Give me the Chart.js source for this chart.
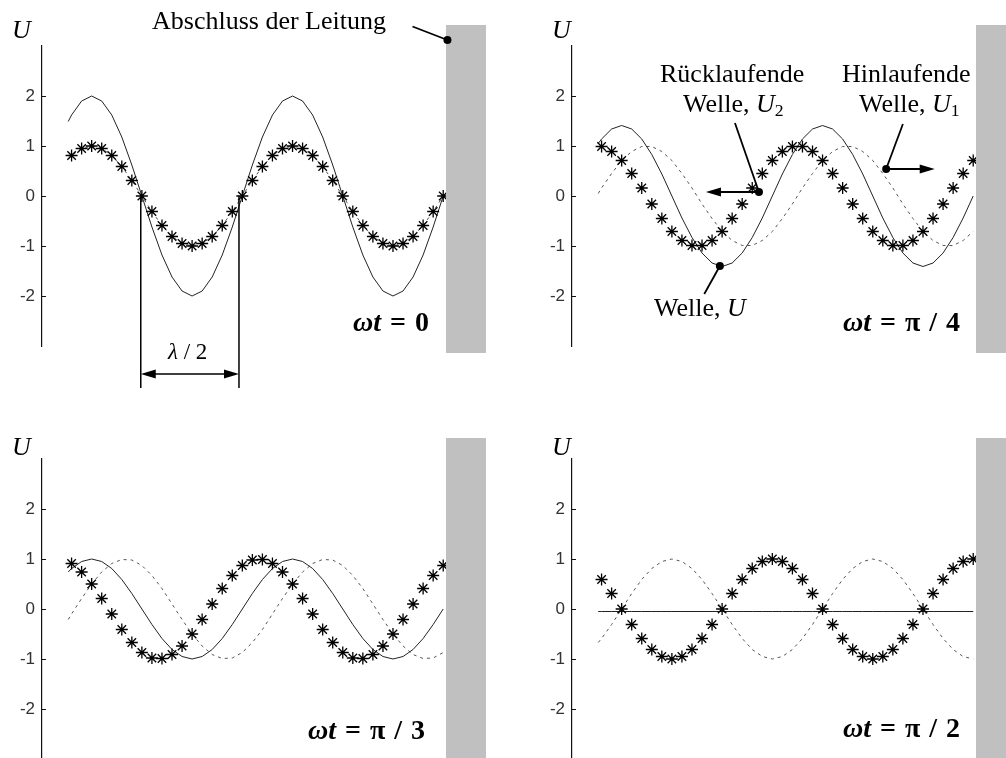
<!DOCTYPE html>
<html lang="de">
<head>
  <meta charset="UTF-8">
  <title>Stehende Welle</title>
  <script src="https://cdn.jsdelivr.net/npm/chart.js"></script>
  <style>
    body {
      margin: 0;
      background: #ffffff;
    }
    #page {
      position: relative;
      width: 1006px;
      height: 758px;
      overflow: hidden;
      background: #ffffff;
    }
    canvas {
      position: absolute;
    }
    .lbl {
      position: absolute;
      font-family: 'Liberation Serif', 'Times New Roman', serif;
      font-size: 26px;
      line-height: 1;
      white-space: nowrap;
      color: #000;
    }
    .i { font-style: italic; }
    .big { font-size: 28px; font-weight: bold; word-spacing: 2px; }
    sub {
      font-size: 0.68em;
      font-style: normal;
      vertical-align: -0.22em;
      line-height: 0;
    }
  </style>
</head>
<body>
<div id="page">
  <canvas id="c1" width="500" height="400" style="left:0;top:0"></canvas>
  <canvas id="c2" width="500" height="400" style="left:530px;top:0"></canvas>
  <canvas id="c3" width="500" height="400" style="left:0;top:413px"></canvas>
  <canvas id="c4" width="500" height="400" style="left:530px;top:413px"></canvas>

  <div class="lbl" style="left:152px;top:8px">Abschluss der Leitung</div>
  <div class="lbl i" style="left:12px;top:17px">U</div>
  <div class="lbl i" style="left:552px;top:17px">U</div>
  <div class="lbl i" style="left:12px;top:434px">U</div>
  <div class="lbl i" style="left:552px;top:434px">U</div>

  <div class="lbl" style="left:660px;top:61px">Rücklaufende</div>
  <div class="lbl" style="left:683px;top:91px">Welle, <span class="i">U</span><sub>2</sub></div>
  <div class="lbl" style="left:842px;top:61px">Hinlaufende</div>
  <div class="lbl" style="left:859px;top:91px">Welle, <span class="i">U</span><sub>1</sub></div>
  <div class="lbl" style="left:654px;top:295px">Welle, <span class="i">U</span></div>

  <div class="lbl" style="left:168px;top:340px;font-size:23px"><span class="i">λ</span> / 2</div>

  <div class="lbl big" style="left:353px;top:308px"><span class="i">ωt</span> = 0</div>
  <div class="lbl big" style="left:843px;top:308px"><span class="i">ωt</span> = π / 4</div>
  <div class="lbl big" style="left:308px;top:716px"><span class="i">ωt</span> = π / 3</div>
  <div class="lbl big" style="left:843px;top:714px"><span class="i">ωt</span> = π / 2</div>
</div>

<script>
  // Ort kz in Grad: Stützstellen der Linien und der Sternmarken
  const zLine = [-42, -36, -18, 0, 18, 36, 54, 72, 90, 108, 126, 144, 162, 180, 198, 216, 234, 252, 270,
    288, 306, 324, 342, 360, 378, 396, 414, 432, 450, 468, 486, 504, 522, 540, 558, 576, 594, 612, 630];
  const zMarks = [-36, -18, 0, 18, 36, 54, 72, 90, 108, 126, 144, 162, 180, 198, 216, 234, 252, 270,
    288, 306, 324, 342, 360, 378, 396, 414, 432, 450, 468, 486, 504, 522, 540, 558, 576, 594, 612, 630];
  const yTicks = [-2, -1, 0, 1, 2];

  // wt = 0
  const U_t0 = [1.49, 1.62, 1.90, 2, 1.90, 1.62, 1.18, 0.62, 0, -0.62, -1.18, -1.62, -1.90, -2, -1.90, -1.62, -1.18, -0.62, 0,
    0.62, 1.18, 1.62, 1.90, 2, 1.90, 1.62, 1.18, 0.62, 0, -0.62, -1.18, -1.62, -1.90, -2, -1.90, -1.62, -1.18, -0.62, 0];
  const U1_t0 = [0.74, 0.81, 0.95, 1, 0.95, 0.81, 0.59, 0.31, 0, -0.31, -0.59, -0.81, -0.95, -1, -0.95, -0.81, -0.59, -0.31, 0,
    0.31, 0.59, 0.81, 0.95, 1, 0.95, 0.81, 0.59, 0.31, 0, -0.31, -0.59, -0.81, -0.95, -1, -0.95, -0.81, -0.59, -0.31, 0];
  const U2_t0 = [0.81, 0.95, 1, 0.95, 0.81, 0.59, 0.31, 0, -0.31, -0.59, -0.81, -0.95, -1, -0.95, -0.81, -0.59, -0.31, 0,
    0.31, 0.59, 0.81, 0.95, 1, 0.95, 0.81, 0.59, 0.31, 0, -0.31, -0.59, -0.81, -0.95, -1, -0.95, -0.81, -0.59, -0.31, 0];

  // wt = pi/4
  const U_t4 = [1.05, 1.14, 1.34, 1.41, 1.34, 1.14, 0.83, 0.44, 0, -0.44, -0.83, -1.14, -1.34, -1.41, -1.34, -1.14, -0.83, -0.44, 0,
    0.44, 0.83, 1.14, 1.34, 1.41, 1.34, 1.14, 0.83, 0.44, 0, -0.44, -0.83, -1.14, -1.34, -1.41, -1.34, -1.14, -0.83, -0.44, 0];
  const U1_t4 = [0.05, 0.16, 0.45, 0.71, 0.89, 0.99, 0.99, 0.89, 0.71, 0.45, 0.16, -0.16, -0.45, -0.71, -0.89, -0.99, -0.99, -0.89, -0.71,
    -0.45, -0.16, 0.16, 0.45, 0.71, 0.89, 0.99, 0.99, 0.89, 0.71, 0.45, 0.16, -0.16, -0.45, -0.71, -0.89, -0.99, -0.99, -0.89, -0.71];
  const U2_t4 = [0.99, 0.89, 0.71, 0.45, 0.16, -0.16, -0.45, -0.71, -0.89, -0.99, -0.99, -0.89, -0.71, -0.45, -0.16, 0.16, 0.45, 0.71,
    0.89, 0.99, 0.99, 0.89, 0.71, 0.45, 0.16, -0.16, -0.45, -0.71, -0.89, -0.99, -0.99, -0.89, -0.71, -0.45, -0.16, 0.16, 0.45, 0.71];

  // wt = pi/3
  const U_t3 = [0.74, 0.81, 0.95, 1, 0.95, 0.81, 0.59, 0.31, 0, -0.31, -0.59, -0.81, -0.95, -1, -0.95, -0.81, -0.59, -0.31, 0,
    0.31, 0.59, 0.81, 0.95, 1, 0.95, 0.81, 0.59, 0.31, 0, -0.31, -0.59, -0.81, -0.95, -1, -0.95, -0.81, -0.59, -0.31, 0];
  const U1_t3 = [-0.21, -0.1, 0.21, 0.5, 0.74, 0.91, 0.99, 0.98, 0.87, 0.67, 0.41, 0.1, -0.21, -0.5, -0.74, -0.91, -0.99, -0.98, -0.87,
    -0.67, -0.41, -0.1, 0.21, 0.5, 0.74, 0.91, 0.99, 0.98, 0.87, 0.67, 0.41, 0.1, -0.21, -0.5, -0.74, -0.91, -0.99, -0.98, -0.87];
  const U2_t3 = [0.91, 0.74, 0.5, 0.21, -0.1, -0.41, -0.67, -0.87, -0.98, -0.99, -0.91, -0.74, -0.5, -0.21, 0.1, 0.41, 0.67, 0.87,
    0.98, 0.99, 0.91, 0.74, 0.5, 0.21, -0.1, -0.41, -0.67, -0.87, -0.98, -0.99, -0.91, -0.74, -0.5, -0.21, 0.1, 0.41, 0.67, 0.87];

  // wt = pi/2
  const U_t2 = [-0.05, -0.05, -0.05, -0.05, -0.05, -0.05, -0.05, -0.05, -0.05, -0.05, -0.05, -0.05, -0.05, -0.05, -0.05, -0.05, -0.05, -0.05, -0.05,
    -0.05, -0.05, -0.05, -0.05, -0.05, -0.05, -0.05, -0.05, -0.05, -0.05, -0.05, -0.05, -0.05, -0.05, -0.05, -0.05, -0.05, -0.05, -0.05, -0.05];
  const U1_t2 = [-0.67, -0.59, -0.31, 0, 0.31, 0.59, 0.81, 0.95, 1, 0.95, 0.81, 0.59, 0.31, 0, -0.31, -0.59, -0.81, -0.95, -1,
    -0.95, -0.81, -0.59, -0.31, 0, 0.31, 0.59, 0.81, 0.95, 1, 0.95, 0.81, 0.59, 0.31, 0, -0.31, -0.59, -0.81, -0.95, -1];
  const U2_t2 = [0.59, 0.31, 0, -0.31, -0.59, -0.81, -0.95, -1, -0.95, -0.81, -0.59, -0.31, 0, 0.31, 0.59, 0.81, 0.95, 1,
    0.95, 0.81, 0.59, 0.31, 0, -0.31, -0.59, -0.81, -0.95, -1, -0.95, -0.81, -0.59, -0.31, 0, 0.31, 0.59, 0.81, 0.95, 1];

  function pts(xs, ys) {
    return xs.map((x, i) => ({ x: x, y: ys[i] }));
  }

  // kleine Zeichenhilfen fuer Hinweislinien
  function line(ctx, a, b) {
    ctx.beginPath();
    ctx.moveTo(a[0], a[1]);
    ctx.lineTo(b[0], b[1]);
    ctx.stroke();
  }
  function dot(ctx, p) {
    ctx.beginPath();
    ctx.arc(p[0], p[1], 4, 0, Math.PI * 2);
    ctx.fill();
  }
  function head(ctx, tip, dir) {
    ctx.beginPath();
    ctx.moveTo(tip[0], tip[1]);
    ctx.lineTo(tip[0] - dir * 15, tip[1] - 4.5);
    ctx.lineTo(tip[0] - dir * 15, tip[1] + 4.5);
    ctx.closePath();
    ctx.fill();
  }

  function makePanel(id, U, U1, U2, notes) {
    return new Chart(document.getElementById(id), {
      type: 'scatter',
      data: {
        datasets: [
          { data: pts(zMarks, U2), showLine: false, pointStyle: 'star', pointRadius: 6,
            borderColor: '#000', borderWidth: 1.3 },
          { data: pts(zLine, U), showLine: true, borderColor: '#222', borderWidth: 1, pointRadius: 0 },
          { data: pts(zLine, U1), showLine: true, borderColor: '#555', borderWidth: 1,
            borderDash: [3, 4], pointRadius: 0 }
        ]
      },
      options: {
        responsive: false,
        animation: false,
        events: [],
        layout: { padding: { left: 0, top: 46, right: 54, bottom: 54 } },
        plugins: { legend: { display: false }, tooltip: { enabled: false } },
        scales: {
          x: { type: 'linear', min: -89, max: 635, display: false },
          y: {
            min: -3, max: 3,
            afterBuildTicks: s => { s.ticks = yTicks.map(v => ({ value: v })); },
            afterFit: s => { s.width = 42; },
            grid: { display: false, drawTicks: false },
            border: { display: true, color: '#111', width: 1.2 },
            ticks: { padding: 7, color: '#333', font: { family: "'Liberation Sans', Arial, sans-serif", size: 17 } }
          }
        }
      },
      plugins: [{
        id: 'deko',
        afterDatasetsDraw(chart) {
          const ctx = chart.ctx;
          const area = chart.chartArea;
          const xs = chart.scales.x, ys = chart.scales.y;
          ctx.save();
          // Abschluss der Leitung
          ctx.fillStyle = '#c0c0c0';
          ctx.fillRect(area.right, area.top - 21, 40, area.bottom - area.top + 28);
          // Teilstriche nach innen
          ctx.strokeStyle = '#111';
          ctx.lineWidth = 1;
          yTicks.forEach(v => {
            const y = Math.round(ys.getPixelForValue(v)) + 0.5;
            line(ctx, [area.left, y], [area.left + 4, y]);
          });
          if (notes) {
            const P = (z, u) => [xs.getPixelForValue(z), ys.getPixelForValue(u)];
            ctx.strokeStyle = '#000';
            ctx.fillStyle = '#000';
            ctx.lineWidth = 1.8;
            notes(ctx, P);
          }
          ctx.restore();
        }
      }]
    });
  }

  makePanel('c1', U_t0, U1_t0, U2_t0, (ctx, P) => {
    const end = P(637.6, 3.12);
    line(ctx, P(575, 3.39), end);
    dot(ctx, end);
    // halbe Wellenlaenge
    ctx.lineWidth = 1.5;
    line(ctx, P(88, 0), P(88, -3.84));
    line(ctx, P(264, 0), P(264, -3.84));
    const a = P(88, -3.56), b = P(264, -3.56);
    line(ctx, [a[0] + 10, a[1]], [b[0] - 10, b[1]]);
    head(ctx, a, -1);
    head(ctx, b, 1);
  });

  makePanel('c2', U_t4, U1_t4, U2_t4, (ctx, P) => {
    const d2 = P(246, 0.08);
    line(ctx, P(203, 1.46), d2);
    const t2 = P(151, 0.08);
    line(ctx, d2, [t2[0] + 10, t2[1]]);
    head(ctx, t2, -1);
    dot(ctx, d2);

    const d1 = P(474, 0.54);
    line(ctx, P(504, 1.44), d1);
    const t1 = P(561, 0.54);
    line(ctx, d1, [t1[0] - 10, t1[1]]);
    head(ctx, t1, 1);
    dot(ctx, d1);

    const d = P(176, -1.4);
    line(ctx, P(148, -1.96), d);
    dot(ctx, d);
  });

  makePanel('c3', U_t3, U1_t3, U2_t3, null);
  makePanel('c4', U_t2, U1_t2, U2_t2, null);
</script>
</body>
</html>
